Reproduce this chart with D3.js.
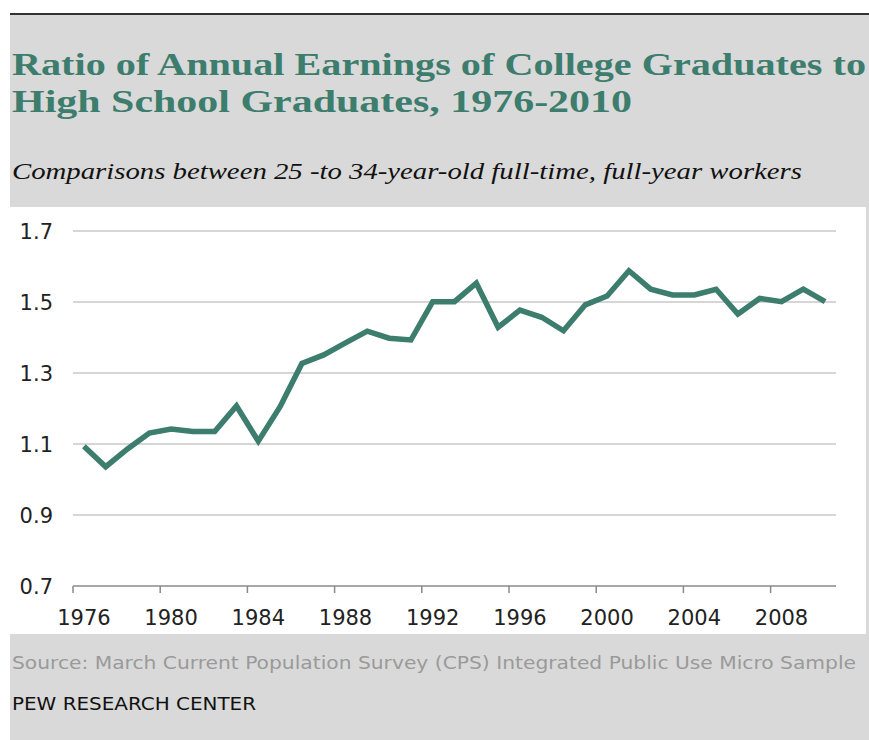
<!doctype html>
<html>
<head>
<meta charset="utf-8">
<script src="https://cdn.jsdelivr.net/npm/d3@7"></script>
<style>
  body { margin: 0; background: #fff; }
  svg { display: block; }
</style>
</head>
<body>
<div id="chart"></div>
<script>
// years on the category axis
var years = d3.range(1976, 2011);
// ratio of college grad earnings to high school grad earnings
var ratios = [1.094, 1.036, 1.086, 1.131, 1.142, 1.135, 1.135, 1.207, 1.108, 1.205,
              1.327, 1.351, 1.385, 1.418, 1.398, 1.393, 1.501, 1.501, 1.553, 1.429,
              1.477, 1.457, 1.419, 1.492, 1.517, 1.588, 1.536, 1.520, 1.520, 1.536,
              1.466, 1.510, 1.501, 1.536, 1.501];
var yTicks = [0.7, 0.9, 1.1, 1.3, 1.5, 1.7];
var xTickYears = [1976, 1980, 1984, 1988, 1992, 1996, 2000, 2004, 2008];

var W = 869, H = 740;
var teal = "#3d7d6d";

var svg = d3.select("#chart").append("svg")
    .attr("width", W)
    .attr("height", H);

// header panel
svg.append("rect").attr("x", 10).attr("y", 14).attr("width", W - 10).attr("height", 193).attr("fill", "#d9d9d9");
svg.append("line").attr("x1", 10).attr("x2", W).attr("y1", 14).attr("y2", 14)
    .attr("stroke", "#333").attr("stroke-width", 2);
// right border strip of chart panel
svg.append("rect").attr("x", 866).attr("y", 207).attr("width", 3).attr("height", 427).attr("fill", "#d9d9d9");
// footer panel
svg.append("rect").attr("x", 10).attr("y", 634).attr("width", W - 10).attr("height", H - 634).attr("fill", "#d9d9d9");

svg.append("text").attr("x", 12).attr("y", 75)
    .attr("font-family", "Liberation Serif, serif").attr("font-weight", "bold")
    .attr("font-size", 32).attr("fill", teal)
    .attr("textLength", 854).attr("lengthAdjust", "spacingAndGlyphs")
    .text("Ratio of Annual Earnings of College Graduates to");
svg.append("text").attr("x", 12).attr("y", 112)
    .attr("font-family", "Liberation Serif, serif").attr("font-weight", "bold")
    .attr("font-size", 32).attr("fill", teal)
    .attr("textLength", 620).attr("lengthAdjust", "spacingAndGlyphs")
    .text("High School Graduates, 1976-2010");
svg.append("text").attr("x", 12).attr("y", 179)
    .attr("font-family", "Liberation Serif, serif").attr("font-style", "italic")
    .attr("font-size", 24).attr("fill", "#111")
    .attr("textLength", 790).attr("lengthAdjust", "spacingAndGlyphs")
    .text("Comparisons between 25 -to 34-year-old full-time, full-year workers");

// plot area
var x = d3.scaleBand().domain(years).range([73, 836]);
var y = d3.scaleLinear().domain([0.7, 1.7]).range([586, 231]);

// gridlines
svg.append("g").selectAll("line")
    .data(yTicks.slice(1))
    .enter().append("line")
    .attr("x1", 73).attr("x2", 836)
    .attr("y1", function (d) { return y(d); })
    .attr("y2", function (d) { return y(d); })
    .attr("stroke", "#c8c8c8").attr("stroke-width", 1.5);

// y labels
svg.append("g").selectAll("text")
    .data(yTicks)
    .enter().append("text")
    .attr("x", 53)
    .attr("y", function (d) { return y(d); })
    .attr("dy", "0.36em")
    .attr("text-anchor", "end")
    .attr("font-family", "DejaVu Sans, sans-serif").attr("font-size", 21)
    .attr("fill", "#222")
    .text(function (d) { return d3.format(".1f")(d); });

// x axis line and ticks
svg.append("line").attr("x1", 73).attr("x2", 836).attr("y1", y(0.7)).attr("y2", y(0.7))
    .attr("stroke", "#8a8a8a").attr("stroke-width", 1.5);
svg.append("g").selectAll("line")
    .data(xTickYears)
    .enter().append("line")
    .attr("x1", function (d) { return x(d); })
    .attr("x2", function (d) { return x(d); })
    .attr("y1", y(0.7)).attr("y2", y(0.7) + 7)
    .attr("stroke", "#8a8a8a").attr("stroke-width", 1.5);
svg.append("g").selectAll("text")
    .data(xTickYears)
    .enter().append("text")
    .attr("x", function (d) { return x(d) + x.bandwidth() / 2; })
    .attr("y", 625)
    .attr("text-anchor", "middle")
    .attr("font-family", "DejaVu Sans, sans-serif").attr("font-size", 21)
    .attr("fill", "#222")
    .text(function (d) { return d; });

// the line
var line = d3.line()
    .x(function (d, i) { return x(years[i]) + x.bandwidth() / 2; })
    .y(function (d) { return y(d); });
svg.append("path").datum(ratios)
    .attr("d", line)
    .attr("fill", "none")
    .attr("stroke", teal)
    .attr("stroke-width", 5.5)
    .attr("stroke-linejoin", "miter");

// footer
svg.append("text").attr("x", 12).attr("y", 669)
    .attr("font-family", "DejaVu Sans Condensed, DejaVu Sans, sans-serif")
    .attr("font-size", 17).attr("fill", "#9a9a9a")
    .attr("textLength", 844).attr("lengthAdjust", "spacingAndGlyphs")
    .text("Source: March Current Population Survey (CPS) Integrated Public Use Micro Sample");
svg.append("text").attr("x", 12).attr("y", 710)
    .attr("font-family", "DejaVu Sans Condensed, DejaVu Sans, sans-serif")
    .attr("font-size", 17).attr("fill", "#111")
    .attr("textLength", 244).attr("lengthAdjust", "spacingAndGlyphs")
    .text("PEW RESEARCH CENTER");
</script>
</body>
</html>
